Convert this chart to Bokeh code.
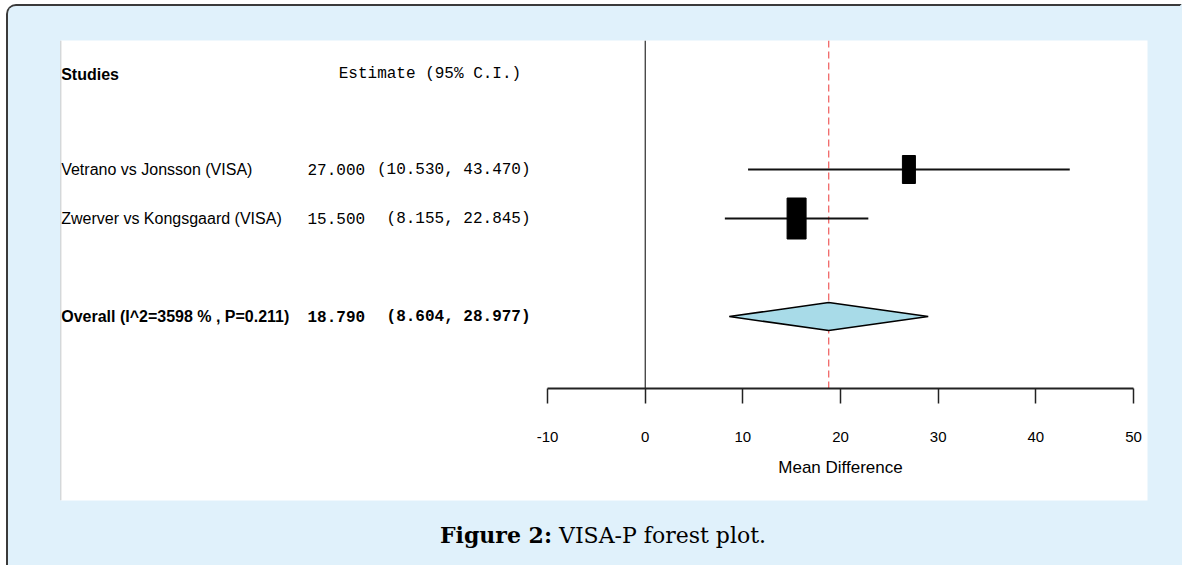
from bokeh.plotting import figure
from bokeh.models import Range1d, FixedTicker, Div, Span
from bokeh.layouts import column
from bokeh.core.properties import value
from bokeh.embed import file_html
from bokeh.resources import INLINE

# ---------------- data ----------------
studies = ["Vetrano vs Jonsson (VISA)", "Zwerver vs Kongsgaard (VISA)"]
estimates = [27.000, 15.500]
lower = [10.530, 8.155]
upper = [43.470, 22.845]
overall_label = "Overall (I^2=3598 % , P=0.211)"
overall_est = 18.790
overall_lower = 8.604
overall_upper = 28.977
x_ticks = [-10, 0, 10, 20, 30, 40, 50]
header_study = "Studies"
header_est = "Estimate (95% C.I.)"
x_label = "Mean Difference"
caption_bold = "Figure 2:"
caption_text = "VISA-P forest plot."

# ---------------- layout constants ----------------
rows = [4, 3]
overall_row = 1
header_row = 5.94
axis_y = -0.47
y_top, y_bot = 6.633, -2.755
x_left, x_right = -59.87, 51.43
col_label_x = -59.8
col_est_x = -34.58
col_ci_x = -11.74
box_w = [13, 19]
box_h = [28, 41]
diamond_half = 14 / 49

LABEL_FONT = "Liberation Sans"
MONO_FONT = "Liberation Mono"
PANEL_BG = "#e0f1fb"
CONTENT_W = 1172


def fmt(v):
    return f"{v:.3f}"


p = figure(width=CONTENT_W, height=509, output_backend="svg", toolbar_location=None,
           x_range=Range1d(x_left, x_right), y_range=Range1d(y_bot, y_top),
           x_axis_location="below", y_axis_location=None,
           min_border_left=52, min_border_right=33, min_border_top=34, min_border_bottom=15,
           margin=0)
p.background_fill_color = "white"
p.border_fill_color = PANEL_BG
p.outline_line_color = None
p.grid.visible = False

# thin grey edge on the left of the white panel
p.add_layout(Span(location=x_left, dimension="height", line_color="#b8b8b8", line_width=1.5))

# reference lines
p.segment(x0=[0], y0=[axis_y], x1=[0], y1=[y_top], line_color="black", line_width=1)
p.segment(x0=[overall_est], y0=[axis_y], x1=[overall_est], y1=[y_top],
          line_color="#f05a5a", line_width=1.2, line_dash="7 4")

# study CIs and boxes
p.segment(x0=lower, y0=rows, x1=upper, y1=rows, line_color="#111111", line_width=2)
p.rect(x=estimates, y=rows, width=box_w, height=box_h, width_units="screen",
       height_units="screen", fill_color="black", line_color="black")

# overall diamond
p.patch(x=[overall_lower, overall_est, overall_upper, overall_est],
        y=[overall_row, overall_row + diamond_half, overall_row, overall_row - diamond_half],
        fill_color="#a8dbe8", line_color="black", line_width=1.5)

# texts
p.text(x=[col_label_x], y=[header_row], text=[header_study], text_font=value(LABEL_FONT),
       text_font_size="16px", text_font_style="bold", text_baseline="middle", text_align="left")
p.text(x=[col_est_x + 3.2], y=[header_row], text=[header_est], text_font=value(MONO_FONT),
       text_font_size="16px", text_baseline="middle", text_align="left")

p.text(x=[col_label_x] * len(studies), y=rows, text=studies, text_font=value(LABEL_FONT),
       text_font_size="16px", text_baseline="middle", text_align="left")
p.text(x=[col_est_x] * len(studies), y=rows, text=[fmt(e) for e in estimates],
       text_font=value(MONO_FONT), text_font_size="16px", text_baseline="middle", text_align="left")
p.text(x=[col_ci_x] * len(studies), y=rows,
       text=[f"({fmt(lo)}, {fmt(hi)})" for lo, hi in zip(lower, upper)],
       text_font=value(MONO_FONT), text_font_size="16px", text_baseline="middle", text_align="right")

p.text(x=[col_label_x], y=[overall_row], text=[overall_label], text_font=value(LABEL_FONT),
       text_font_size="16px", text_font_style="bold", text_baseline="middle", text_align="left")
p.text(x=[col_est_x], y=[overall_row], text=[fmt(overall_est)], text_font=value(MONO_FONT),
       text_font_size="16px", text_font_style="bold", text_baseline="middle", text_align="left")
p.text(x=[col_ci_x], y=[overall_row], text=[f"({fmt(overall_lower)}, {fmt(overall_upper)})"],
       text_font=value(MONO_FONT), text_font_size="16px", text_font_style="bold",
       text_baseline="middle", text_align="right")

# axis
xa = p.xaxis[0]
xa.fixed_location = axis_y
xa.ticker = FixedTicker(ticks=x_ticks)
xa.bounds = (min(x_ticks), max(x_ticks))
xa.major_label_overrides = {t: str(t) for t in x_ticks}
xa.minor_tick_line_color = None
xa.major_tick_in = 0
xa.major_tick_out = 15
xa.major_tick_line_width = 1.5
xa.major_tick_line_color = "#222222"
xa.axis_line_width = 2
xa.axis_line_color = "#222222"
xa.major_label_text_font = LABEL_FONT
xa.major_label_text_font_size = "15px"
xa.major_label_text_color = "black"
xa.major_label_standoff = 28
xa.axis_label = x_label
xa.axis_label_text_font = LABEL_FONT
xa.axis_label_text_font_size = "17px"
xa.axis_label_text_font_style = "normal"
xa.axis_label_text_color = "black"
xa.axis_label_standoff = 13

# caption
caption = Div(
    text=(f'<div style="padding-left:432px; padding-top:8px; font-family:\'DejaVu Serif\', serif; '
          f'font-size:22px; line-height:24px; color:black; white-space:nowrap;">'
          f'<b>{caption_bold}</b> {caption_text}</div>'),
    width=CONTENT_W, height=50, margin=0,
    styles={"background-color": PANEL_BG},
)

layout = column(p, caption, spacing=0, margin=0,
                styles={"margin-left": "6px", "margin-top": "4px",
                        "border-left": "2px solid #3a3a3a", "border-top": "2px solid #3a3a3a",
                        "border-right": f"2px solid {PANEL_BG}", "border-bottom": "none",
                        "border-top-left-radius": "10px", "border-top-right-radius": "0px",
                        "overflow": "hidden", "background-color": PANEL_BG})

open("out.html", "w").write(file_html(layout, INLINE))
